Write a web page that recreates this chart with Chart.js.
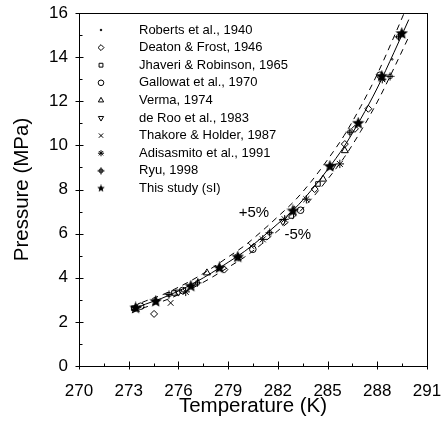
<!DOCTYPE html>
<html>
<head>
<meta charset="utf-8">
<script src="https://cdn.jsdelivr.net/npm/chart.js@4.4.1/dist/chart.umd.min.js"></script>
<style>
html,body{margin:0;padding:0;background:#fff;}
#wrap{width:443px;height:435px;position:relative;}
</style>
</head>
<body>
<div id="wrap"><canvas id="c" width="443" height="435"></canvas></div>
<script>
// ---------- data ----------
const curveT = [273.2, 274, 275, 276, 277, 278, 279, 280, 281, 282, 283, 284, 285, 286, 287, 288, 289, 289.9];
const curveP = [2.55, 2.80, 3.07, 3.40, 3.78, 4.22, 4.70, 5.20, 5.80, 6.45, 7.12, 7.95, 8.90, 9.95, 11.20, 12.60, 14.20, 15.70];

const upperT = [273.2, 274, 275, 276, 277, 278, 279, 280, 281, 282, 283, 284, 285, 286, 287, 288, 289, 289.6];
const upperP = [2.68, 2.94, 3.22, 3.57, 3.97, 4.43, 4.94, 5.46, 6.09, 6.77, 7.48, 8.35, 9.35, 10.45, 11.76, 13.23, 14.91, 15.96];

const lowerT = [273.2, 274, 275, 276, 277, 278, 279, 280, 281, 282, 283, 284, 285, 286, 287, 288, 289, 289.9];
const lowerP = [2.42, 2.66, 2.92, 3.23, 3.59, 4.01, 4.47, 4.94, 5.51, 6.13, 6.76, 7.55, 8.46, 9.45, 10.64, 11.97, 13.49, 14.92];

const robertsT = [273.7, 277.2, 280.6, 283.0, 288.9];
const robertsP = [2.68, 3.90, 5.50, 7.20, 13.90];

const deatonT = [274.53, 278.77, 284.22, 286.04, 286.65, 287.46];
const deatonP = [2.36, 4.37, 8.02, 10.06, 10.75, 11.66];

const jhaveriT = [273.3, 275.73, 282.81, 284.42];
const jhaveriP = [2.62, 3.31, 6.80, 8.25];

const gallowayT = [273.72, 276.25, 280.49, 283.37, 288.16];
const gallowayP = [2.71, 3.42, 5.29, 7.06, 13.18];

const vermaT = [277.72, 284.73, 286.04];
const vermaP = [4.22, 8.47, 9.76];

const deRooT = [276.0, 282.3, 285.3];
const deRooP = [3.35, 6.55, 9.05];

const thakoreT = [273.5, 275.53, 280.39];
const thakoreP = [2.60, 2.86, 5.44];

const adisasmitoT = [276.44, 279.6, 281.09, 282.41, 283.72, 285.74, 288.3];
const adisasmitoP = [3.36, 4.93, 5.74, 6.65, 7.56, 9.16, 13.00];

const ryuT = [275.43, 277.15, 281.5, 286.34, 288.77, 289.28];
const ryuP = [3.24, 3.77, 6.04, 10.60, 13.13, 14.92];

const studyT = [273.42, 274.63, 276.75, 278.47, 279.58, 282.91, 285.14, 286.85, 288.27, 289.48];
const studyP = [2.63, 2.93, 3.62, 4.45, 4.94, 7.03, 9.05, 11.00, 13.13, 15.07];

const seriesLabels = ['Roberts et al., 1940', 'Deaton & Frost, 1946', 'Jhaveri & Robinson, 1965',
  'Gallowat et al., 1970', 'Verma, 1974', 'de Roo et al., 1983',
  'Thakore & Holder, 1987', 'Adisasmito et al., 1991', 'Ryu, 1998', 'This study (sI)'];

const xTicksMajor = [270, 273, 276, 279, 282, 285, 288, 291];
const yTicksMajor = [0, 2, 4, 6, 8, 10, 12, 14, 16];

// ---------- helpers ----------
const pts = (xs, ys) => xs.map((x, i) => ({x: x, y: ys[i]}));
const FONT = "'Liberation Sans', Arial, sans-serif";

function makeStar(size) {
  const c = document.createElement('canvas');
  c.width = c.height = size;
  const g = c.getContext('2d');
  const R = size / 2, r = R * 0.45;
  g.beginPath();
  for (let i = 0; i < 10; i++) {
    const a = -Math.PI / 2 + i * Math.PI / 5;
    const rad = i % 2 ? r : R;
    g.lineTo(R + rad * Math.cos(a), R + rad * Math.sin(a));
  }
  g.closePath();
  g.fillStyle = '#000';
  g.fill();
  return c;
}
function makeRyu(size) {
  const c = document.createElement('canvas');
  c.width = c.height = size;
  const g = c.getContext('2d');
  const m = size / 2;
  g.strokeStyle = '#000';
  g.lineWidth = 1;
  g.beginPath();
  g.arc(m, m, size * 0.25, 0, Math.PI * 2);
  g.moveTo(m, 0.5); g.lineTo(m, size - 0.5);
  g.moveTo(0.5, m); g.lineTo(size - 0.5, m);
  g.stroke();
  return c;
}
const starBig = makeStar(13), starSmall = makeStar(8);
const ryuBig = makeRyu(9), ryuSmall = makeRyu(8);

function markerSet(label, xs, ys, style, radius, rotation, legendStyle) {
  return {
    label: label, data: pts(xs, ys), showLine: false,
    pointStyle: style, pointRadius: radius, pointRotation: rotation || 0,
    pointBorderColor: '#000', pointBackgroundColor: 'rgba(0,0,0,0)', pointBorderWidth: 1,
    pointHoverRadius: radius, legendMarker: true, legendStyle: legendStyle || style,
    order: 1
  };
}
function lineSet(xs, ys, dash) {
  return {
    label: '', data: pts(xs, ys), showLine: true, pointRadius: 0, borderColor: '#000',
    borderWidth: 1, borderDash: dash || [], cubicInterpolationMode: 'monotone', fill: false,
    legendMarker: false, order: 2
  };
}

const datasets = [
  markerSet(seriesLabels[0], robertsT, robertsP, 'circle', 0.8),
  markerSet(seriesLabels[1], deatonT, deatonP, 'rectRot', 3.5),
  markerSet(seriesLabels[2], jhaveriT, jhaveriP, 'rect', 3.2),
  markerSet(seriesLabels[3], gallowayT, gallowayP, 'circle', 3.3),
  markerSet(seriesLabels[4], vermaT, vermaP, 'triangle', 4),
  markerSet(seriesLabels[5], deRooT, deRooP, 'triangle', 4, 180),
  markerSet(seriesLabels[6], thakoreT, thakoreP, 'crossRot', 4),
  markerSet(seriesLabels[7], adisasmitoT, adisasmitoP, 'star', 4.2),
  markerSet(seriesLabels[8], ryuT, ryuP, ryuBig, 4, 0, ryuSmall),
  markerSet(seriesLabels[9], studyT, studyP, starBig, 6, 0, starSmall),
  lineSet(curveT, curveP),
  lineSet(upperT, upperP, [6, 5]),
  lineSet(lowerT, lowerP, [6, 5])
];

// ---------- plugins ----------
const framePlugin = {
  id: 'frame',
  afterDraw(chart) {
    const {ctx, chartArea: a, scales} = chart;
    const xs = scales.x, ys = scales.y;
    ctx.save();
    ctx.strokeStyle = '#000';
    ctx.lineWidth = 1;
    ctx.strokeRect(Math.round(a.left) + 0.5, Math.round(a.top) + 0.5,
      Math.round(a.right - a.left), Math.round(a.bottom - a.top));
    ctx.beginPath();
    const b = Math.round(a.bottom) + 0.5, l = Math.round(a.left) + 0.5;
    for (let v = xs.min; v <= xs.max + 1e-6; v += 1.5) {
      const px = Math.round(xs.getPixelForValue(v)) + 0.5;
      const major = Math.abs((v - xs.min) % 3) < 1e-6;
      ctx.moveTo(px, b + (major ? 3 : 0));
      ctx.lineTo(px, b - (major ? 5 : 3));
    }
    for (let v = ys.min; v <= ys.max + 1e-6; v += 1) {
      const py = Math.round(ys.getPixelForValue(v)) + 0.5;
      const major = v % 2 === 0;
      ctx.moveTo(l - (major ? 4 : 0), py);
      ctx.lineTo(l + (major ? 4 : 3), py);
    }
    ctx.stroke();
    ctx.restore();
  }
};

function drawMarker(ctx, style, radius, rotation, x, y) {
  if (style instanceof HTMLCanvasElement) {
    ctx.drawImage(style, x - style.width / 2, y - style.height / 2);
    return;
  }
  Chart.helpers.drawPoint(ctx, {pointStyle: style, radius: radius, rotation: rotation || 0, borderWidth: 1}, x, y);
}

const legendPlugin = {
  id: 'insideLegend',
  afterDraw(chart) {
    const {ctx, chartArea: a} = chart;
    ctx.save();
    ctx.font = '13px ' + FONT;
    ctx.fillStyle = '#000';
    ctx.strokeStyle = '#000';
    ctx.lineWidth = 1;
    ctx.textBaseline = 'middle';
    ctx.textAlign = 'left';
    let i = 0;
    chart.data.datasets.forEach(ds => {
      if (!ds.legendMarker) return;
      const y = a.top + 17 + i * 17.6;
      const mx = a.left + 22;
      ctx.fillStyle = 'rgba(0,0,0,0)';
      const r = ds.pointRadius < 1 ? 0.8 : Math.min(ds.pointRadius, 3.6) * 0.85;
      ctx.save();
      if (ds.pointRadius < 1) { ctx.fillStyle = '#000'; }
      drawMarker(ctx, ds.legendStyle, r, ds.pointRotation, mx, y);
      ctx.restore();
      ctx.fillStyle = '#000';
      ctx.fillText(ds.label, a.left + 60, y);
      i++;
    });
    // +5% / -5% annotations
    ctx.font = '15px ' + FONT;
    const xs = chart.scales.x, ys = chart.scales.y;
    ctx.fillText('+5%', xs.getPixelForValue(279.64), ys.getPixelForValue(6.96));
    ctx.fillText('-5%', xs.getPixelForValue(282.4), ys.getPixelForValue(5.96));
    ctx.restore();
  }
};

Chart.defaults.color = '#000';
Chart.defaults.font.family = FONT;

new Chart(document.getElementById('c'), {
  type: 'scatter',
  data: {datasets: datasets},
  options: {
    responsive: false,
    animation: false,
    devicePixelRatio: 1,
    layout: {padding: {left: 0, right: 16, top: 13, bottom: 0}},
    plugins: {legend: {display: false}, tooltip: {enabled: false}},
    scales: {
      x: {
        type: 'linear', min: 270, max: 291,
        afterBuildTicks: s => { s.ticks = xTicksMajor.map(v => ({value: v})); },
        afterFit: s => { s.height = 69; s.paddingLeft = 0; s.paddingRight = 0; },
        grid: {display: false, drawTicks: false},
        border: {display: false},
        ticks: {font: {size: 17}, padding: 15, color: '#000', maxRotation: 0},
        title: {display: true, text: 'Temperature (K)', font: {size: 20.5}, padding: {top: 0, bottom: 16}, color: '#000'}
      },
      y: {
        type: 'linear', min: 0, max: 16,
        afterBuildTicks: s => { s.ticks = yTicksMajor.map(v => ({value: v})); },
        afterFit: s => { s.width = 79; s.paddingTop = 0; s.paddingBottom = 0; },
        grid: {display: false, drawTicks: false},
        border: {display: false},
        ticks: {font: {size: 17}, padding: 11, color: '#000'},
        title: {display: true, text: 'Pressure (MPa)', font: {size: 20.5}, padding: {top: 10, bottom: 0}, color: '#000'}
      }
    }
  },
  plugins: [framePlugin, legendPlugin]
});
</script>
</body>
</html>
